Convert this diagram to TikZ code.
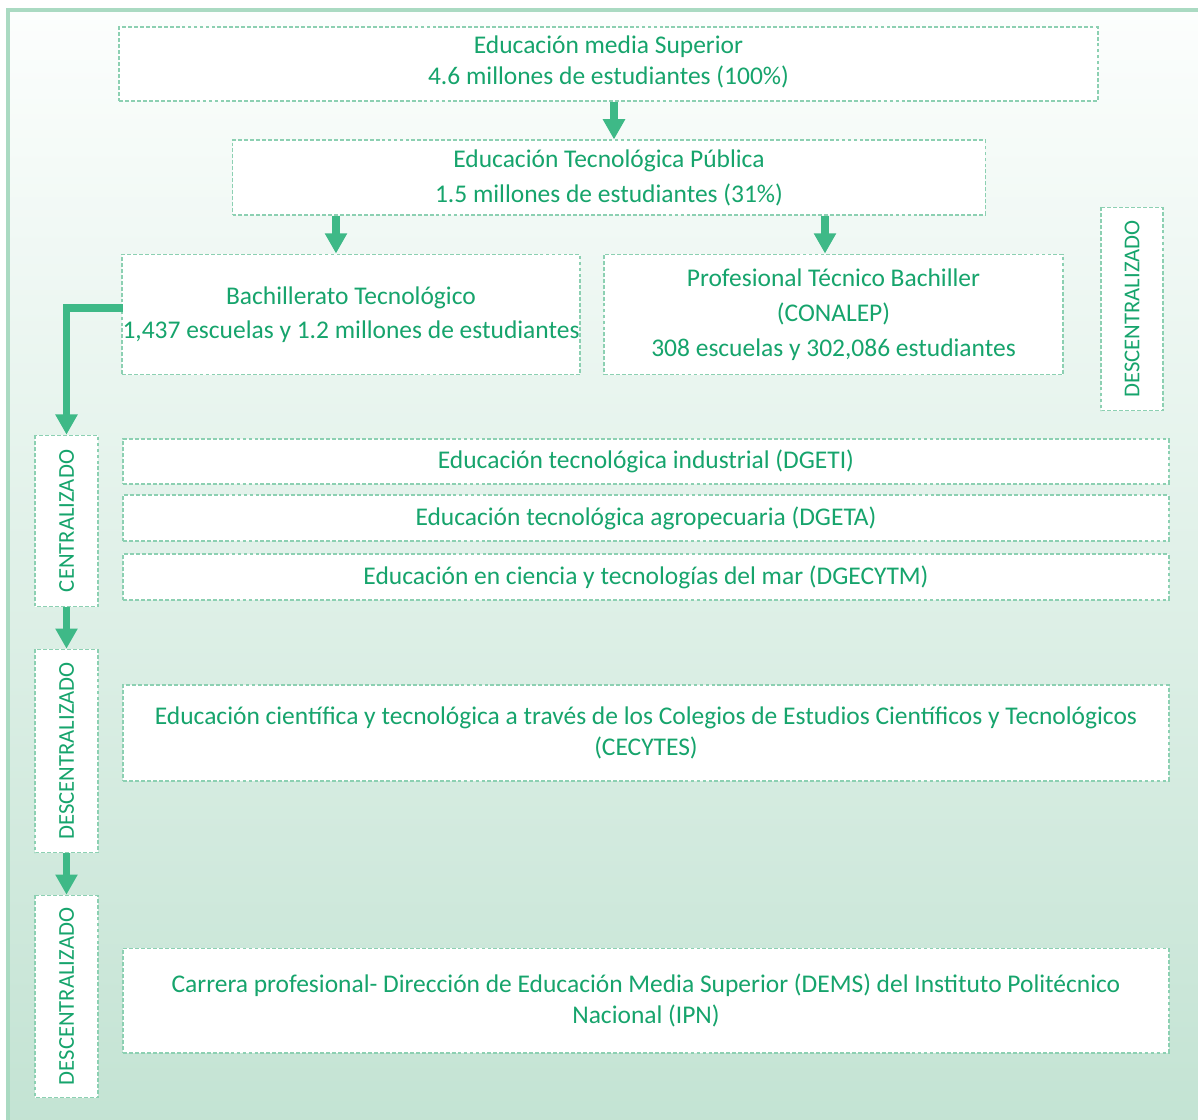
\documentclass[tikz,border=0pt]{standalone}
\usepackage{fontspec}
\setmainfont{Carlito}
\usetikzlibrary{arrows.meta,calc}
\definecolor{txtgreen}{RGB}{22,164,108}
\definecolor{arrgreen}{RGB}{62,185,135}
\definecolor{dashgreen}{RGB}{140,208,178}
\definecolor{bordergreen}{RGB}{170,218,194}
\definecolor{bgtop}{RGB}{252,254,253}
\definecolor{bgbot}{RGB}{195,227,211}
\tikzset{
  box/.style={draw=dashgreen, line width=0.8pt, dash pattern=on 2.2pt off 1.2pt,
    fill=white, inner sep=0pt, align=center, text=txtgreen,
    font=\fontsize{14.5}{17.5}\selectfont},
  vbox/.style={box, rotate=90, font=\fontsize{12.9}{15}\selectfont},
  arr/.style={draw=arrgreen, line width=4.5pt,
    -{Triangle[width=12pt,length=11.5pt]}},
}
\newcommand\bx[7][]{%
  \node[box,#1, minimum width={(#4-#2)*0.5669pt}, minimum height={(#5-#3)*0.5669pt}]
    (#6) at ({(#2+#4)/2},{(#3+#5)/2}) {#7};}
\newcommand\vbx[6]{%
  \node[vbox, minimum width={(#4-#2)*0.5669pt}, minimum height={(#3-#1)*0.5669pt}]
    (#5) at ({(#1+#3)/2},{(#2+#4)/2}) {#6};}
\begin{document}
\begin{tikzpicture}[x=0.02cm,y=-0.02cm]
\useasboundingbox (0,0) rectangle (1198,1120);
\clip (0,0) rectangle (1198,1120);
\shade[top color=bgtop, bottom color=bgbot] (8,10) rectangle (1210,1130);
\draw[bordergreen, line width=1.8pt] (8,1130) -- (8,10) -- (1210,10);

\bx{117}{27}{1100}{101}{ems}{Educación media Superior\\4.6 millones de estudiantes (100\%)\\[-13pt]\mbox{}}
\bx{231}{140}{987}{215}{etp}{Educación Tecnológica Pública\\[2.5pt]1.5 millones de estudiantes (31\%)}
\bx{121}{254}{581}{375}{bach}{Bachillerato Tecnológico\\[2pt]1,437 escuelas y 1.2 millones de estudiantes}
\bx{603}{254}{1064}{375}{cona}{Profesional Técnico Bachiller\\[2.5pt](CONALEP)\\[2.5pt]308 escuelas y 302,086 estudiantes}
\vbx{1101}{207}{1163}{411}{desc0}{DESCENTRALIZADO}

\vbx{35}{435}{98}{607}{cent}{CENTRALIZADO}
\bx{121}{439}{1171}{484}{dgeti}{Educación tecnológica industrial (DGETI)}
\bx{121}{495}{1171}{541}{dgeta}{Educación tecnológica agropecuaria (DGETA)}
\bx{121}{554}{1171}{600}{dgecytm}{Educación en ciencia y tecnologías del mar (DGECYTM)}

\vbx{35}{649}{98}{853}{desc1}{DESCENTRALIZADO}
\bx{121}{685}{1171}{781}{cecytes}{Educación científica y tecnológica a través de los Colegios de Estudios Científicos y Tecnológicos\\(CECYTES)}

\vbx{35}{895}{98}{1098}{desc2}{DESCENTRALIZADO}
\bx{121}{948}{1171}{1053}{ipn}{Carrera profesional- Dirección de Educación Media Superior (DEMS) del Instituto Politécnico\\Nacional (IPN)}

\coordinate (xa) at (614,0);
\coordinate (xb) at (336,0);
\coordinate (xc) at (825,0);
\draw[arr] (ems.south -| xa) -- (etp.north -| xa);
\draw[arr] (etp.south -| xb) -- (bach.north -| xb);
\draw[arr] (etp.south -| xc) -- (cona.north -| xc);
\draw[arr] ([yshift=3.8pt,xshift=1pt]bach.west) -| (cent.east);
\draw[arr] (cent.west) -- (desc1.east);
\draw[arr] (desc1.west) -- (desc2.east);
\end{tikzpicture}
\end{document}
